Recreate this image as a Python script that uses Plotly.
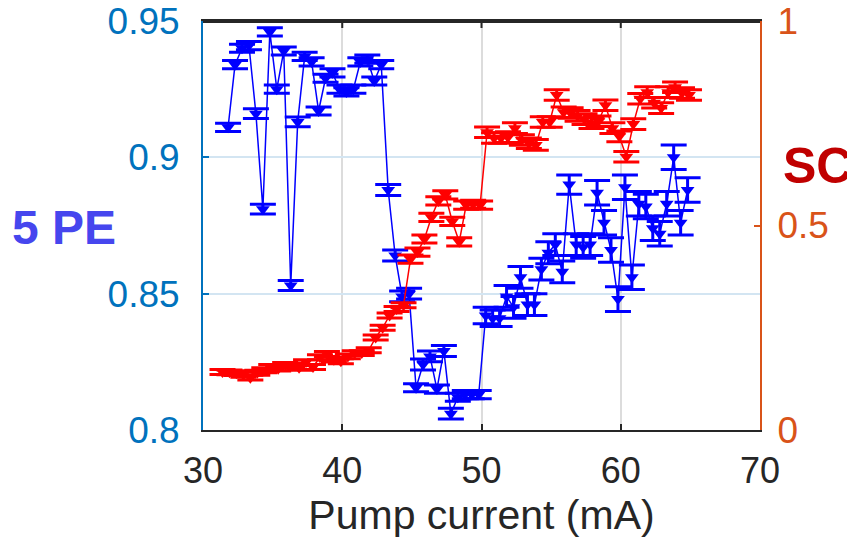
import plotly.graph_objects as go

# Blue series: 5 PE (left axis)
pe_current = [31.8, 32.3, 32.8, 33.3, 33.8, 34.3, 34.8, 35.3, 35.8, 36.3, 36.8, 37.3, 37.8,
              38.3, 38.8, 39.3, 39.8, 40.3, 40.8, 41.3, 41.8, 42.3, 42.8, 43.3, 43.8, 44.3,
              44.8, 45.3, 45.8, 46.3, 46.8, 47.3, 47.8, 48.3, 48.8, 49.3, 49.8, 50.3, 50.8,
              51.3, 51.8, 52.3, 52.8, 53.3, 53.8, 54.3, 54.8, 55.3, 55.8, 56.3, 56.8, 57.3,
              57.8, 58.3, 58.8, 59.3, 59.8, 60.3, 60.8, 61.3, 61.8, 62.3, 62.8, 63.3, 63.8,
              64.3, 64.8]
pe_values = [0.911, 0.934, 0.940, 0.941, 0.916, 0.881, 0.946, 0.925, 0.939, 0.853, 0.913, 0.937, 0.935,
             0.917, 0.929, 0.931, 0.925, 0.924, 0.925, 0.935, 0.936, 0.928, 0.934, 0.888, 0.864, 0.849,
             0.850, 0.8155, 0.824, 0.827, 0.815, 0.829, 0.806, 0.812, 0.813, 0.813, 0.813, 0.842, 0.841,
             0.841, 0.849, 0.845, 0.856, 0.846, 0.846, 0.859, 0.865, 0.868, 0.858, 0.890, 0.868, 0.867,
             0.868, 0.887, 0.876, 0.866, 0.848, 0.889, 0.856, 0.883, 0.882, 0.874, 0.872, 0.883, 0.900,
             0.876, 0.888]
pe_errors = [0.0015, 0.0015, 0.0015, 0.0015, 0.0018, 0.0018, 0.0015, 0.0015, 0.0015, 0.0018, 0.0018, 0.0015, 0.0015,
             0.0015, 0.0015, 0.0015, 0.0015, 0.0015, 0.0015, 0.0015, 0.0015, 0.0015, 0.0015, 0.002, 0.002, 0.002,
             0.002, 0.0015, 0.002, 0.002, 0.0015, 0.002, 0.002, 0.0015, 0.0015, 0.0015, 0.0015, 0.003, 0.003,
             0.003, 0.004, 0.004, 0.004, 0.004, 0.004, 0.004, 0.004, 0.004, 0.004, 0.0035, 0.004, 0.004,
             0.004, 0.0045, 0.0045, 0.0045, 0.0045, 0.0045, 0.0045, 0.0045, 0.0045, 0.0045, 0.0045, 0.0045, 0.0045,
             0.0045, 0.0045]

# Red series: SC (right axis)
sc_current = [31.4, 31.9, 32.4, 32.9, 33.4, 33.9, 34.4, 34.9, 35.4, 35.9, 36.4, 36.9, 37.4,
              37.9, 38.4, 38.9, 39.4, 39.9, 40.4, 40.9, 41.4, 41.9, 42.4, 42.9, 43.4, 43.9,
              44.4, 44.9, 45.4, 45.9, 46.4, 46.9, 47.4, 47.9, 48.4, 48.9, 49.4, 49.9, 50.4,
              50.9, 51.4, 51.9, 52.4, 52.9, 53.4, 53.9, 54.4, 54.9, 55.4, 55.9, 56.4, 56.9,
              57.4, 57.9, 58.4, 58.9, 59.4, 59.9, 60.4, 60.9, 61.4, 61.9, 62.4, 62.9, 63.4,
              63.9, 64.4, 64.9]
sc_values = [0.142, 0.141, 0.139, 0.135, 0.128, 0.140, 0.146, 0.154, 0.150, 0.159, 0.158, 0.152, 0.166,
             0.154, 0.178, 0.186, 0.172, 0.168, 0.180, 0.188, 0.188, 0.195, 0.226, 0.250, 0.280, 0.296,
             0.305, 0.418, 0.435, 0.467, 0.520, 0.560, 0.575, 0.510, 0.460, 0.550, 0.552, 0.550, 0.728,
             0.714, 0.714, 0.716, 0.738, 0.709, 0.701, 0.697, 0.753, 0.753, 0.819, 0.777, 0.775, 0.768,
             0.760, 0.750, 0.755, 0.794, 0.738, 0.718, 0.668, 0.748, 0.810, 0.826, 0.800, 0.787, 0.826,
             0.838, 0.824, 0.819]
sc_errors = [0.006] * 27 + [0.01] * 11 + [0.013] * 30

x_ticks = [30, 40, 50, 60, 70]

fig = go.Figure()

fig.add_trace(go.Scatter(
    x=pe_current, y=pe_values, mode="lines+markers", name="5 PE",
    line=dict(color="#0000FF", width=1.5),
    marker=dict(symbol="triangle-down", size=12, color="#0000FF"),
    error_y=dict(type="data", array=pe_errors, visible=True, color="#0000FF",
                 thickness=3, width=13),
    yaxis="y", showlegend=False,
))

fig.add_trace(go.Scatter(
    x=sc_current, y=sc_values, mode="lines+markers", name="SC",
    line=dict(color="#FF0000", width=1.5),
    marker=dict(symbol="triangle-down", size=12, color="#FF0000"),
    error_y=dict(type="data", array=sc_errors, visible=True, color="#FF0000",
                 thickness=3, width=13),
    yaxis="y2", showlegend=False,
))

font_family = "Liberation Sans, Arial, sans-serif"

# top box edge and its inward ticks (axis decoration)
box_shapes = [dict(type="line", xref="paper", yref="paper", x0=0, x1=1, y0=0.998, y1=0.998,
                   line=dict(color="#262626", width=2.5), layer="above")]
for t in x_ticks[1:-1]:
    box_shapes.append(dict(type="line", xref="x", yref="paper", x0=t, x1=t,
                           y0=1, y1=1 - 7 / 409,
                           line=dict(color="#262626", width=2), layer="above"))

fig.update_layout(
    width=847, height=539,
    margin=dict(l=195, r=95, t=13, b=117),
    paper_bgcolor="white", plot_bgcolor="white",
    font=dict(family=font_family),
    shapes=box_shapes,
    xaxis=dict(
        range=[30, 70], tickvals=x_ticks,
        showgrid=True, gridcolor="#DCDCDC", gridwidth=2,
        showline=True, linecolor="#262626", linewidth=2, mirror=True,
        ticks="inside", ticklen=6, tickcolor="#262626", tickwidth=2,
        tickfont=dict(size=36, color="#262626"), ticklabelstandoff=8,
        zeroline=False, automargin=False,
        title=dict(text="Pump current (mA)", font=dict(size=41, color="#262626"), standoff=10),
    ),
    yaxis=dict(
        range=[0.8, 0.95], tickvals=[0.8, 0.85, 0.9, 0.95],
        ticktext=["0.8", "0.85", "0.9", "0.95"],
        showgrid=True, gridcolor="#D3E5F2", gridwidth=2,
        showline=True, linecolor="#0072BD", linewidth=2,
        ticks="inside", ticklen=6, tickcolor="#0072BD", tickwidth=2,
        tickfont=dict(size=37, color="#0072BD"), ticklabelstandoff=14,
        ticklabeloverflow="allow",
        zeroline=False, automargin=False,
    ),
    yaxis2=dict(
        range=[0, 1], tickvals=[0, 0.5, 1], ticktext=["0", "0.5", "1"],
        overlaying="y", side="right", showgrid=False,
        showline=True, linecolor="#D95319", linewidth=2,
        ticks="inside", ticklen=6, tickcolor="#D95319", tickwidth=2,
        tickfont=dict(size=37, color="#D95319"), ticklabelstandoff=8,
        ticklabeloverflow="allow",
        zeroline=False, automargin=False,
    ),
    annotations=[
        dict(text="<b>5 PE</b>", xref="paper", yref="paper", x=-0.25, y=0.494,
             xanchor="center", yanchor="middle", showarrow=False,
             font=dict(size=48, color="#4646EE", family=font_family)),
        dict(text="<b>SC</b>", xref="paper", yref="paper", x=1.104, y=0.6455,
             xanchor="center", yanchor="middle", showarrow=False,
             font=dict(size=50, color="#C00000", family=font_family)),
    ],
)

fig.write_html("out.html")
